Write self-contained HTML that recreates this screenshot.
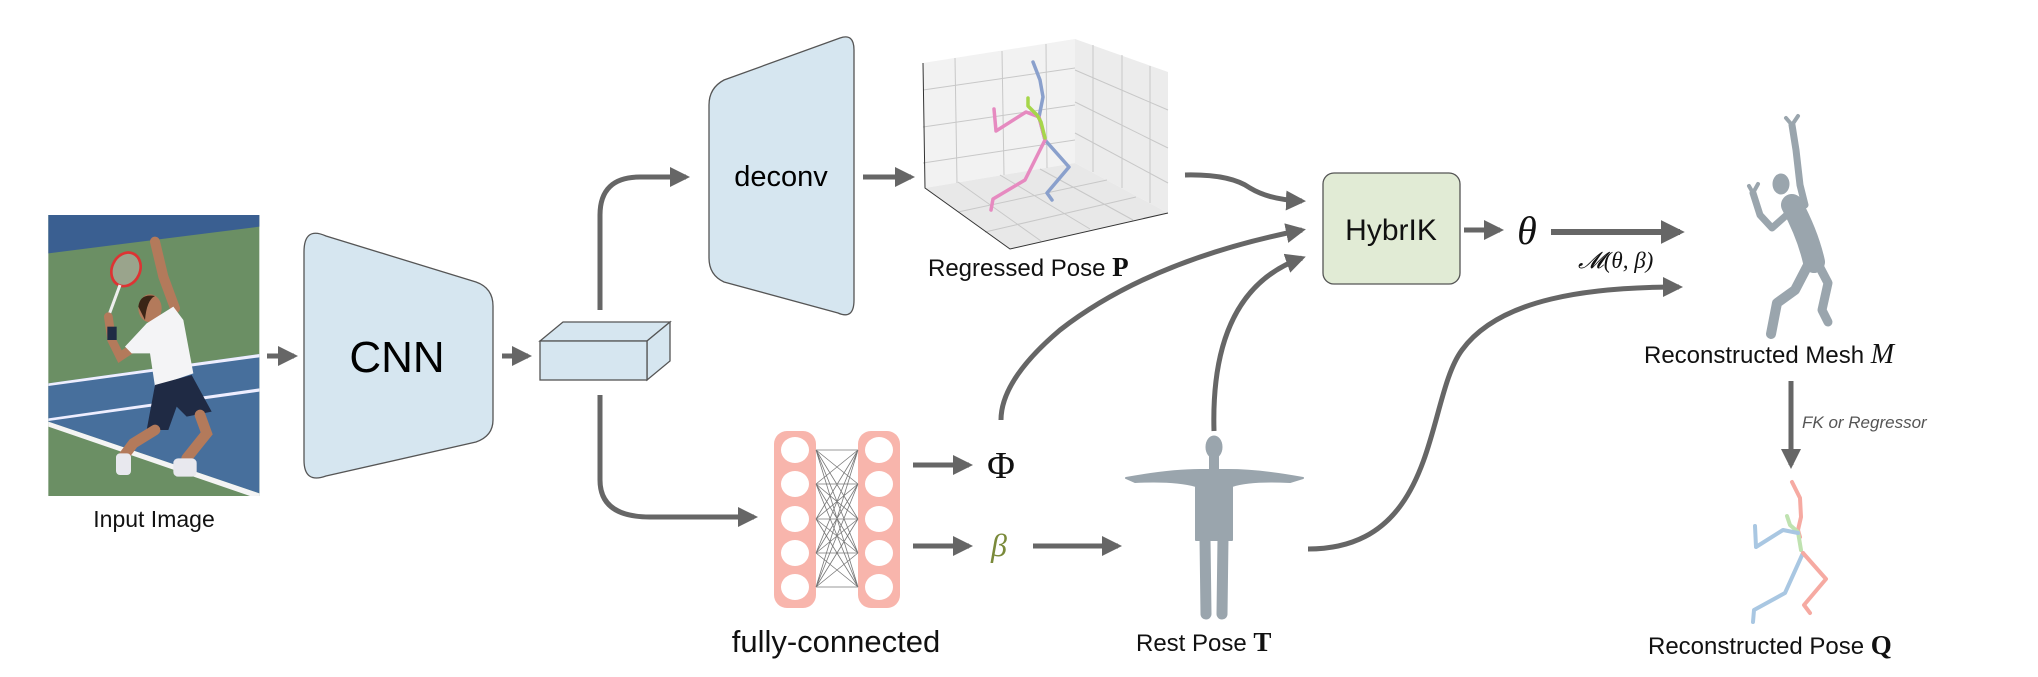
<!DOCTYPE html>
<html><head><meta charset="utf-8"><style>
html,body{margin:0;padding:0;background:#fff}
svg{display:block}
text{font-family:"Liberation Sans",sans-serif}
.m{font-family:"Liberation Serif",serif}
</style></head><body>
<svg width="2038" height="677" viewBox="0 0 2038 677" xmlns="http://www.w3.org/2000/svg">
<defs>
<marker id="ah" viewBox="0 0 10 10" refX="8" refY="5" markerWidth="4" markerHeight="4" orient="auto" markerUnits="strokeWidth">
<path d="M0,0 L10,5 L0,10 z" fill="#666"/></marker>
</defs>
<rect width="2038" height="677" fill="#fff"/>

<!-- Input image -->
<g transform="translate(40,210) scale(0.33333)">
<rect x="25" y="15" width="633" height="843" fill="#6b8f64"/>
<polygon points="25,15 658,15 658,50 25,130" fill="#3a5f91"/>
<polygon points="25,520 658,432 658,850 25,635" fill="#476f9c"/>
<polygon points="25,520 658,432 658,442 25,528" fill="#eef"/>
<polygon points="25,625 658,535 658,545 25,633" fill="#eef"/>
<polygon points="25,635 658,850 658,858 630,858 25,650" fill="#f4f4f4"/>
<ellipse cx="258" cy="178" rx="42" ry="52" transform="rotate(25 258 178)" fill="#9aa48c" stroke="#d33" stroke-width="8"/>
<line x1="240" y1="225" x2="205" y2="320" stroke="#eee" stroke-width="9"/>
<polyline points="345,95 370,200 405,295" fill="none" stroke="#b37a5b" stroke-width="30" stroke-linecap="round"/>
<polyline points="205,320 215,390 240,440 285,410" fill="none" stroke="#b37a5b" stroke-width="26" stroke-linecap="round"/>
<rect x="202" y="350" width="28" height="40" fill="#1f2c44"/>
<ellipse cx="330" cy="295" rx="35" ry="42" fill="#b37a5b"/>
<path d="M295,290 Q300,250 345,258 Q320,270 315,330 Z" fill="#3b2516"/>
<path d="M255,410 L320,340 L400,290 L430,330 L460,490 L345,530 L330,430 L275,430 Z" fill="#f4f4f6"/>
<path d="M345,525 L455,495 L515,605 L440,620 L410,590 L385,660 L320,660 Z" fill="#1f2a44"/>
<polyline points="345,660 280,700 250,740" fill="none" stroke="#b37a5b" stroke-width="32" stroke-linecap="round"/>
<polyline points="480,615 500,670 440,745" fill="none" stroke="#b37a5b" stroke-width="32" stroke-linecap="round"/>
<rect x="228" y="730" width="45" height="65" rx="12" fill="#e8e8ee"/>
<rect x="400" y="745" width="70" height="55" rx="14" fill="#e8e8ee"/>
</g>
<text x="154" y="527" font-size="23" text-anchor="middle" fill="#111">Input Image</text>

<line x1="267" y1="356" x2="294" y2="356" stroke="#666" stroke-width="5" marker-end="url(#ah)"/>
<line x1="502" y1="356" x2="528" y2="356" stroke="#666" stroke-width="5" marker-end="url(#ah)"/>

<!-- CNN -->
<path d="M304,252 Q304,226 326,236 L476,282 Q493,288 493,306 L493,420 Q493,436 476,442 L326,476 Q304,484 304,460 Z" fill="#d6e6f0" stroke="#555" stroke-width="1.3"/>
<text x="397" y="372" font-size="44" text-anchor="middle" fill="#000">CNN</text>

<!-- feature box -->
<polygon points="540,341 563,322 670,322 647,341" fill="#d6e6f0" stroke="#555" stroke-width="1.3"/>
<polygon points="647,341 670,322 670,361 647,380" fill="#d6e6f0" stroke="#555" stroke-width="1.3"/>
<rect x="540" y="341" width="107" height="39" fill="#d6e6f0" stroke="#555" stroke-width="1.3"/>

<path d="M600,310 L600,215 Q600,177 640,177 L686,177" fill="none" stroke="#666" stroke-width="5" marker-end="url(#ah)"/>
<path d="M600,395 L600,480 Q600,517 650,517 L754,517" fill="none" stroke="#666" stroke-width="5" marker-end="url(#ah)"/>

<!-- deconv -->
<path d="M709,105 Q709,88 724,80 L840,38 Q854,33 854,50 L854,300 Q854,320 838,313 L724,282 Q709,275 709,258 Z" fill="#d6e6f0" stroke="#555" stroke-width="1.3"/>
<text x="781" y="186" font-size="29" text-anchor="middle" fill="#000">deconv</text>
<line x1="863" y1="177" x2="911" y2="177" stroke="#666" stroke-width="5" marker-end="url(#ah)"/>

<!-- 3D plot -->
<g stroke-width="1">
<polygon points="923,63 1075,39 1075,163 925,188" fill="#f2f2f2"/>
<polygon points="1075,39 1168,72 1168,213 1075,163" fill="#ececec"/>
<polygon points="925,188 1075,163 1168,213 1010,249" fill="#e8e8e8"/>
<g stroke="#c8c8c8" fill="none">
<line x1="955" y1="58" x2="957" y2="183"/><line x1="1002" y1="51" x2="1004" y2="175"/><line x1="1046" y1="44" x2="1047" y2="168"/>
<line x1="923" y1="90" x2="1075" y2="68"/><line x1="923" y1="127" x2="1075" y2="105"/><line x1="923" y1="163" x2="1075" y2="140"/>
<line x1="1093" y1="45" x2="1093" y2="172"/><line x1="1122" y1="55" x2="1122" y2="188"/><line x1="1150" y1="66" x2="1150" y2="203"/>
<line x1="1075" y1="70" x2="1168" y2="110"/><line x1="1075" y1="102" x2="1168" y2="148"/><line x1="1075" y1="133" x2="1168" y2="183"/>
<line x1="958" y1="212" x2="1107" y2="180"/><line x1="985" y1="232" x2="1136" y2="197"/>
<line x1="958" y1="182" x2="1041" y2="241"/><line x1="1000" y1="175" x2="1090" y2="229"/><line x1="1040" y1="169" x2="1133" y2="220"/>
</g>
<polyline points="923,63 925,188 1010,249 1168,213" fill="none" stroke="#333"/>
</g>
<g fill="none" stroke-width="3.5" stroke-linecap="round" stroke-linejoin="round">
<polyline points="1033,62 1040,80 1043,97 1039,117 1045,140 1069,167 1047,193 1052,200" stroke="#8aa0cc"/>
<polyline points="994,109 996,131 1026,112 1039,117 1045,140 1025,180 993,199 991,210" stroke="#e68ac0"/>
<polyline points="1028,98 1028,106 1037,115 1041,122 1045,138" stroke="#a6d64a"/>
</g>
<text x="928" y="276" font-size="24" fill="#111">Regressed Pose <tspan class="m" font-weight="bold" font-size="27">P</tspan></text>

<!-- FC network -->
<g>
<rect x="774" y="431" width="42" height="177" rx="13" fill="#f8b5ac"/>
<rect x="858" y="431" width="42" height="177" rx="13" fill="#f8b5ac"/>
<g fill="#fff">
<ellipse cx="795" cy="450" rx="14" ry="13"/><ellipse cx="795" cy="484" rx="14" ry="13"/><ellipse cx="795" cy="519" rx="14" ry="13"/><ellipse cx="795" cy="553" rx="14" ry="13"/><ellipse cx="795" cy="587" rx="14" ry="13"/>
<ellipse cx="879" cy="450" rx="14" ry="13"/><ellipse cx="879" cy="484" rx="14" ry="13"/><ellipse cx="879" cy="519" rx="14" ry="13"/><ellipse cx="879" cy="553" rx="14" ry="13"/><ellipse cx="879" cy="587" rx="14" ry="13"/>
</g>
<g stroke="#777" stroke-width="0.8">
<path d="M816,450 L858,450 M816,450 L858,484 M816,450 L858,519 M816,450 L858,553 M816,450 L858,587
M816,484 L858,450 M816,484 L858,484 M816,484 L858,519 M816,484 L858,553 M816,484 L858,587
M816,519 L858,450 M816,519 L858,484 M816,519 L858,519 M816,519 L858,553 M816,519 L858,587
M816,553 L858,450 M816,553 L858,484 M816,553 L858,519 M816,553 L858,553 M816,553 L858,587
M816,587 L858,450 M816,587 L858,484 M816,587 L858,519 M816,587 L858,553 M816,587 L858,587"/>
</g>
</g>
<text x="836" y="652" font-size="31" text-anchor="middle" fill="#111">fully-connected</text>
<line x1="913" y1="465" x2="969" y2="465" stroke="#666" stroke-width="5" marker-end="url(#ah)"/>
<line x1="913" y1="546" x2="969" y2="546" stroke="#666" stroke-width="5" marker-end="url(#ah)"/>
<text x="1001" y="478" class="m" font-size="38" text-anchor="middle" fill="#111">Φ</text>
<text x="999" y="556" class="m" font-size="32" font-style="italic" text-anchor="middle" fill="#7a8a3a">β</text>

<path d="M1001,420 Q1001,380 1060,330 Q1150,260 1302,230" fill="none" stroke="#666" stroke-width="5" marker-end="url(#ah)"/>
<path d="M1214,431 Q1210,290 1302,258" fill="none" stroke="#666" stroke-width="5" marker-end="url(#ah)"/>
<path d="M1185,175 Q1230,174 1250,188 Q1270,200 1302,201" fill="none" stroke="#666" stroke-width="5" marker-end="url(#ah)"/>

<line x1="1033" y1="546" x2="1118" y2="546" stroke="#666" stroke-width="5" marker-end="url(#ah)"/>

<!-- rest pose figure -->
<g fill="#9aa5ad" stroke="#9aa5ad" stroke-linecap="round" stroke-linejoin="round">
<ellipse cx="1214" cy="447" rx="8" ry="11"/>
<line x1="1214" y1="455" x2="1214" y2="470" stroke-width="10"/>
<path d="M1126,478 Q1170,470 1200,470 L1228,470 Q1260,470 1303,478 L1290,482 Q1250,480 1232,486 L1232,540 L1196,540 L1196,486 Q1175,480 1135,482 Z" stroke-width="2"/>
<line x1="1205" y1="538" x2="1206" y2="614" stroke-width="11"/>
<line x1="1223" y1="538" x2="1222" y2="614" stroke-width="11"/>
</g>
<text x="1136" y="651" font-size="24" fill="#111">Rest Pose <tspan class="m" font-weight="bold" font-size="27">T</tspan></text>

<!-- S-curve rest -> mesh -->
<path d="M1308,549 C1440,549 1425,400 1462,350 C1500,298 1590,287 1679,287" fill="none" stroke="#666" stroke-width="5" marker-end="url(#ah)"/>

<!-- HybrIK -->
<rect x="1323" y="173" width="137" height="111" rx="11" fill="#e1ebd5" stroke="#555" stroke-width="1.3"/>
<text x="1391" y="240" font-size="30" text-anchor="middle" fill="#111">HybrIK</text>
<line x1="1464" y1="230" x2="1500" y2="230" stroke="#666" stroke-width="5" marker-end="url(#ah)"/>
<text x="1527" y="244" class="m" font-size="40" font-style="italic" text-anchor="middle" fill="#111">θ</text>
<line x1="1551" y1="232" x2="1680" y2="232" stroke="#666" stroke-width="6" marker-end="url(#ah)"/>
<text x="1578" y="268" class="m" font-size="23" font-style="italic" fill="#111">𝓜(θ, β)</text>

<!-- mesh figure -->
<g fill="none" stroke="#9aa5ad" stroke-linecap="round" stroke-linejoin="round">
<polyline points="1792,125 1796,150 1800,185 1805,205" stroke-width="7"/>
<polyline points="1753,193 1760,215 1772,228 1790,212" stroke-width="7"/>
<ellipse cx="1781" cy="184" rx="8" ry="10" fill="#9aa5ad" stroke-width="1"/>
<path d="M1792,205 Q1808,235 1814,262" stroke-width="22"/>
<polyline points="1817,262 1828,283 1822,310 1828,322" stroke-width="9"/>
<polyline points="1808,265 1795,290 1777,303 1771,334" stroke-width="10"/>
<polyline points="1786,118 1792,125 1798,116" stroke-width="4"/>
<polyline points="1749,186 1753,193 1758,184" stroke-width="4"/>
</g>
<text x="1644" y="363" font-size="24" fill="#111">Reconstructed Mesh <tspan class="m" font-style="italic" font-size="28">M</tspan></text>

<line x1="1791" y1="381" x2="1791" y2="465" stroke="#666" stroke-width="5" marker-end="url(#ah)"/>
<text x="1802" y="428" font-size="17" font-style="italic" fill="#555">FK or Regressor</text>

<!-- skeleton Q -->
<g fill="none" stroke-width="4" stroke-linecap="round" stroke-linejoin="round">
<polyline points="1792,482 1800,498 1801,517 1798,530 1800,537" stroke="#f6aaa2"/>
<polyline points="1787,516 1790,525 1798,532 1801,550" stroke="#bfe2b0"/>
<polyline points="1755,526 1756,547 1783,530 1798,533" stroke="#a9c7e2"/>
<polyline points="1803,553 1785,593 1754,610 1753,622" stroke="#a9c7e2"/>
<polyline points="1803,553 1826,579 1804,605 1810,613" stroke="#f6aaa2"/>
</g>
<text x="1648" y="654" font-size="24" fill="#111">Reconstructed Pose <tspan class="m" font-weight="bold" font-size="27">Q</tspan></text>
</svg>
</body></html>
